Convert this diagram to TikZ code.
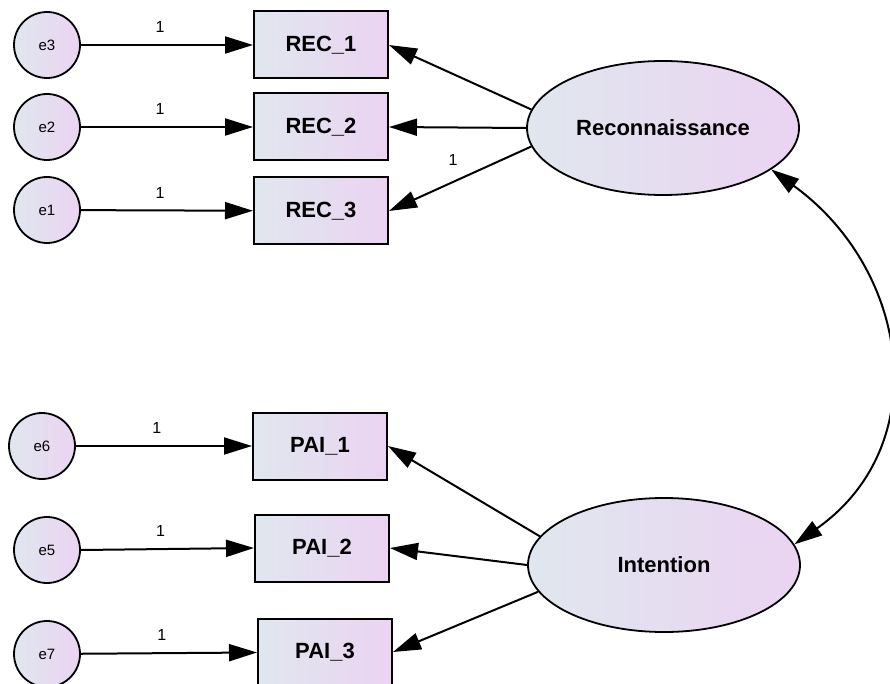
\documentclass[tikz,border=0pt]{standalone}
\usepackage{fontspec}
\setmainfont{Liberation Sans}
\usepackage{tikz}
\usetikzlibrary{arrows.meta,shapes.geometric}
\definecolor{shadeleft}{HTML}{E0E7EE}
\definecolor{shaderight}{HTML}{EBD3F2}

\begin{document}
\begin{tikzpicture}[x=1pt,y=-1pt,
	errnode/.style={circle,draw,line width=1.8pt,minimum size=66pt,inner sep=0pt,left color=shadeleft,right color=shaderight,font=\fontsize{15}{18}\selectfont},
	obsbox/.style={rectangle,draw,line width=2pt,minimum width=134pt,minimum height=67pt,left color=shadeleft,right color=shaderight,font=\fontsize{22}{26}\selectfont\bfseries},
	latent/.style={ellipse,draw,line width=1.8pt,minimum width=272pt,minimum height=134pt,inner sep=0pt,left color=shadeleft,right color=shaderight,font=\fontsize{22}{26}\selectfont\bfseries},
	load/.style={line width=2pt,-{Triangle[length=28pt,width=17pt]}},
	cov/.style={line width=2pt,{Triangle[length=28pt,width=17pt]}-{Triangle[length=28pt,width=17pt]}},
	wt/.style={font=\fontsize{16}{18}\selectfont}]
	\useasboundingbox (0,0) rectangle (890,684);
	
	\coordinate (c3) at (47,45);
	\coordinate (c2) at (47,127);
	\coordinate (c1) at (47,210);
	\coordinate (c6) at (42,446);
	\coordinate (c5) at (47,550);
	\coordinate (c7) at (47,654);
	
	\node (e3) at (c3) [errnode] {e3};
	\node (e2) at (c2) [errnode] {e2};
	\node (e1) at (c1) [errnode] {e1};
	\node (e6) at (c6) [errnode] {e6};
	\node (e5) at (c5) [errnode] {e5};
	\node (e7) at (c7) [errnode] {e7};
	
	\node (rec1) at (321,45) [obsbox] {REC\_1};
	\node (rec2) at (321,127) [obsbox] {REC\_2};
	\node (rec3) at (321,211) [obsbox] {REC\_3};
	\node (pai1) at (320,446) [obsbox] {PAI\_1};
	\node (pai2) at (322,548) [obsbox] {PAI\_2};
	\node (pai3) at (325,652) [obsbox] {PAI\_3};
	
	\node (recon) at (663,128) [latent] {Reconnaissance};
	\node (inten) at (664,565) [latent] {Intention};
	
	\draw[load] (e3) to node[wt,pos=0.46,above=8pt] {1} (rec1);
	\draw[load] (e2) to node[wt,pos=0.46,above=8pt] {1} (rec2);
	\draw[load] (e1) to node[wt,pos=0.46,above=8pt] {1} (rec3);
	\draw[load] (e6) to node[wt,pos=0.46,above=8pt] {1} (pai1);
	\draw[load] (e5.east) to node[wt,pos=0.46,above=8pt] {1} (pai2.west);
	\draw[load] (e7) to node[wt,pos=0.46,above=8pt] {1} (pai3);
	
	\draw[load] (recon.172) to (rec1.east);
	\draw[load] (recon.west) to (rec2.east);
	\draw[load] (recon.188) to node[wt,pos=0.55,above=12pt] {1} (rec3.east);
	\draw[load] (inten.167) to (pai1.east);
	\draw[load] (inten.west) to (pai2.east);
	\draw[load] (inten.192) to (pai3.east);
	
	\draw[cov] (recon.-21) .. controls (910,270) and (935,445) .. (inten.9.5);
\end{tikzpicture}
\end{document}
